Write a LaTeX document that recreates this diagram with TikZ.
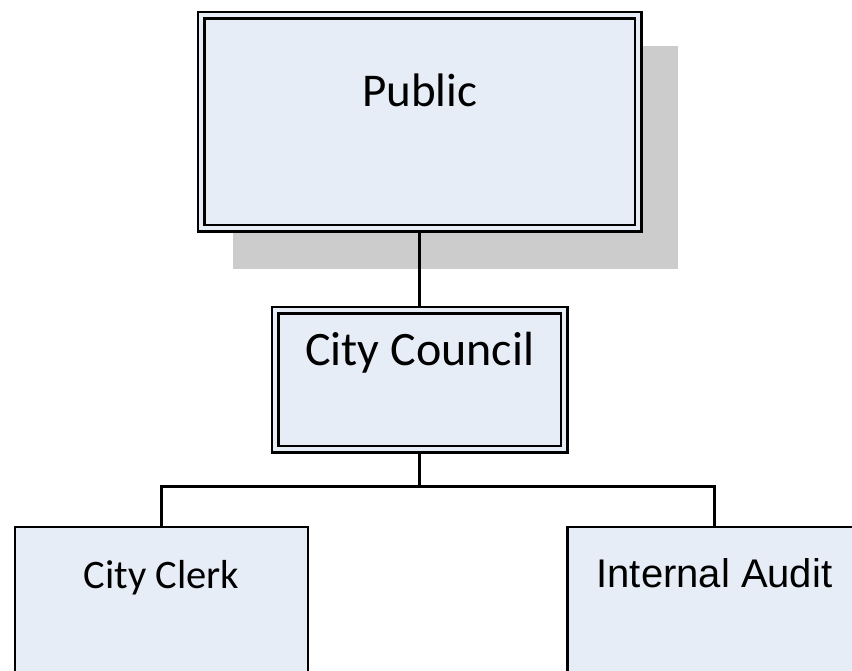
\documentclass[tikz,border=0pt]{standalone}
\usepackage{fontspec}
\setmainfont{Carlito}
\newfontfamily\arialfont{Liberation Sans}
\usepackage{xcolor}
\usetikzlibrary{positioning, backgrounds}
\definecolor{boxfill}{RGB}{231,237,247}
\definecolor{shadowgray}{RGB}{204,204,204}

\begin{document}
\begin{tikzpicture}[x=1pt, y=-1pt,
	dbox/.style={draw=black, double=boxfill, double distance=3.8pt, line width=2.6pt, fill=boxfill, inner sep=0pt, anchor=north west},
	sbox/.style={draw=black, line width=2.8pt, fill=boxfill, inner sep=0pt, anchor=north west},
	conn/.style={line width=2.8pt}]
	\useasboundingbox (0, 0) rectangle (852, 671);

	\node[dbox, minimum width=437pt, text height=91pt, text depth=122pt] (pub) at (200, 14) {\fontsize{47}{56}\selectfont Public};
	\node[dbox, minimum width=289pt, text height=55pt, text depth=84pt] (council) at (274, 309) {\fontsize{48}{58}\selectfont City Council};

	\node[sbox, minimum width=293pt, text height=61.5pt, text depth=140pt] (clerk) at (13.5, 525.5) {\fontsize{40.5}{48}\selectfont City Clerk};
	\node[sbox, minimum width=294pt, text height=60.5pt, text depth=141pt] (audit) at (566, 525.5) {\fontsize{40}{48}\selectfont\arialfont Internal Audit};

	\path (council.south) ++(0, 36) coordinate (bus);

	\begin{pgfonlayer}{background}
		\fill[shadowgray] (233, 46) rectangle (678, 269);
		\draw[conn] (pub.south) -- (pub.south |- council.north);
		\draw[conn] (council.south) -- (bus) -| (clerk.north);
		\draw[conn] (bus) -| (audit.north);
	\end{pgfonlayer}
\end{tikzpicture}
\end{document}
